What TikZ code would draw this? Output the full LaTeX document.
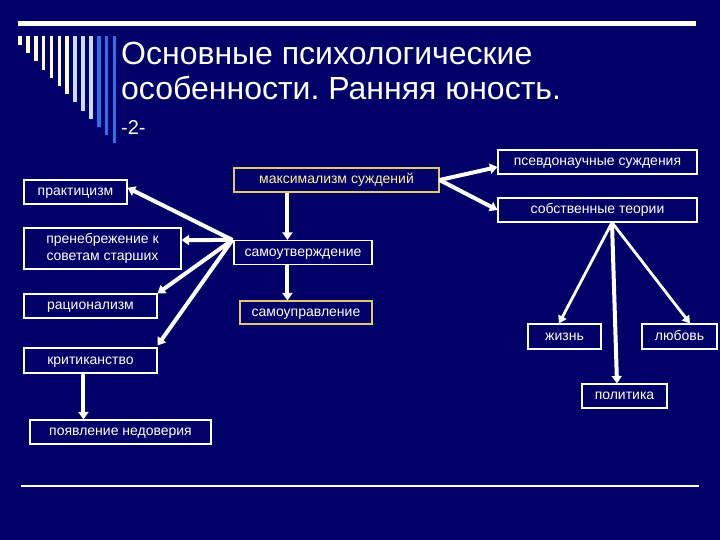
\documentclass[tikz,border=0pt]{standalone}
\usepackage{fontspec}
\setmainfont{Liberation Sans}
\usetikzlibrary{arrows.meta,calc}
\frenchspacing
\definecolor{bg}{RGB}{0,0,104}
\definecolor{paleyel}{RGB}{255,255,204}
\definecolor{paleblue}{RGB}{204,218,255}
\definecolor{midblue}{RGB}{48,112,230}
\definecolor{goldline}{RGB}{225,200,110}
\definecolor{goldtext}{RGB}{255,240,160}
\tikzset{
  boxbase/.style={draw=white, line width=1.1pt, rectangle, inner sep=0pt, text=white,
    font=\fontsize{14}{17}\selectfont},
  box/.style={boxbase, text height=7.4pt, text depth=0pt},
  twoline/.style={boxbase, align=center},
  goldbox/.style={box, draw=goldline},
  thickarrow/.style={draw=white, line width=4pt, -{Triangle[width=10pt,length=7.5pt]}},
  thinarrow/.style={draw=white, line width=2.8pt, -{Triangle[width=9pt,length=7.5pt]}},
}
\begin{document}
\begin{tikzpicture}[x=1pt,y=-1pt]
\fill[bg] (0,0) rectangle (720,540);
\useasboundingbox (0,0) rectangle (720,540);
% decoration bars
\fill[white] (18,21.5) rectangle (696,26.5);
\foreach \i in {0,...,12}{
  \pgfmathsetmacro{\xc}{20+7.875*\i}
  \pgfmathsetmacro{\yb}{45+8.2*\i}
  \ifnum\i<7 \def\barcol{paleyel}\else\ifnum\i<10 \def\barcol{paleblue}\else\def\barcol{midblue}\fi\fi
  \fill[\barcol] (\xc-1.8,36) rectangle (\xc+1.8,\yb);
}
% title
\node[anchor=base west, text=white, inner sep=0pt, font=\fontsize{32}{36}\selectfont] (t1) at (121,65) {Основные психологические};
\node[anchor=base west, text=white, inner sep=0pt, font=\fontsize{32}{36}\selectfont] (t2) at (121,100) {особенности. Ранняя юность.};
\node[anchor=base west, text=white, inner sep=0pt, font=\fontsize{20}{24}\selectfont] (t3) at (121,135) {-2-};
% boxes
\node[box, minimum width=103pt, minimum height=24pt] (prakt) at (75.5,192) {практицизм};
\node[twoline, minimum width=157pt, minimum height=41pt] (preneb) at (102.5,248.5) {пренебрежение к\\советам старших};
\node[box, minimum width=133pt, minimum height=24pt] (racion) at (90.5,306) {рационализм};
\node[box, minimum width=133pt, minimum height=25pt] (kritik) at (90.5,360.5) {критиканство};
\node[box, minimum width=181pt, minimum height=24pt] (poyavl) at (120.5,432) {появление недоверия};
\node[goldbox, minimum width=205pt, minimum height=24pt, text=goldtext] (maxim) at (336.5,180) {максимализм суждений};
\node[box, minimum width=138pt, minimum height=24pt] (samout) at (303,252.5) {самоутверждение};
\node[goldbox, minimum width=132pt, minimum height=23pt] (samoupr) at (306,312.5) {самоуправление};
\node[box, minimum width=199pt, minimum height=24pt] (psevdo) at (597.5,162) {псевдонаучные суждения};
\node[box, minimum width=199pt, minimum height=24pt] (sobstv) at (597.5,210) {собственные теории};
\node[box, minimum width=73pt, minimum height=25pt] (zhizn) at (564.5,336.5) {жизнь};
\node[box, minimum width=75pt, minimum height=25pt] (lyubov) at (679.5,336.5) {любовь};
\node[box, minimum width=85pt, minimum height=24pt] (politika) at (624.5,396) {политика};
% hub arrows
\coordinate (hub) at ([xshift=-1pt]samout.north west);
\draw[thickarrow] (hub) -- ($(prakt.north east)!0.33!(prakt.south east)$);
\draw[thickarrow] (hub) -- ($(preneb.north east)!0.3!(preneb.south east)$);
\draw[thickarrow] (hub) -- (racion.north east);
\draw[thickarrow] (hub) -- ([yshift=2pt]kritik.north east);
\draw[thickarrow] ([xshift=54pt]maxim.south west) -- ([xshift=54pt]samout.north west);
\draw[thickarrow] ([xshift=54pt]samout.south west) -- ([xshift=48pt]samoupr.north west);
\draw[thickarrow] (maxim.east) -- ($(psevdo.north west)!0.7!(psevdo.south west)$);
\draw[thickarrow] (maxim.east) -- (sobstv.west);
\draw[thickarrow] ([xshift=60pt]kritik.south west) -- ([xshift=54pt]poyavl.north west);
\coordinate (st) at ([xshift=14.5pt]sobstv.south);
\draw[thinarrow] (st) -- ([xshift=-5.5pt]zhizn.north);
\draw[thinarrow] (st) -- ([xshift=10.5pt]lyubov.north);
\draw[thickarrow] (st) -- ([xshift=-7.5pt]politika.north);
% bottom line
\draw[white, line width=1.5pt] (21,486) -- (699,486);
\end{tikzpicture}
\end{document}
